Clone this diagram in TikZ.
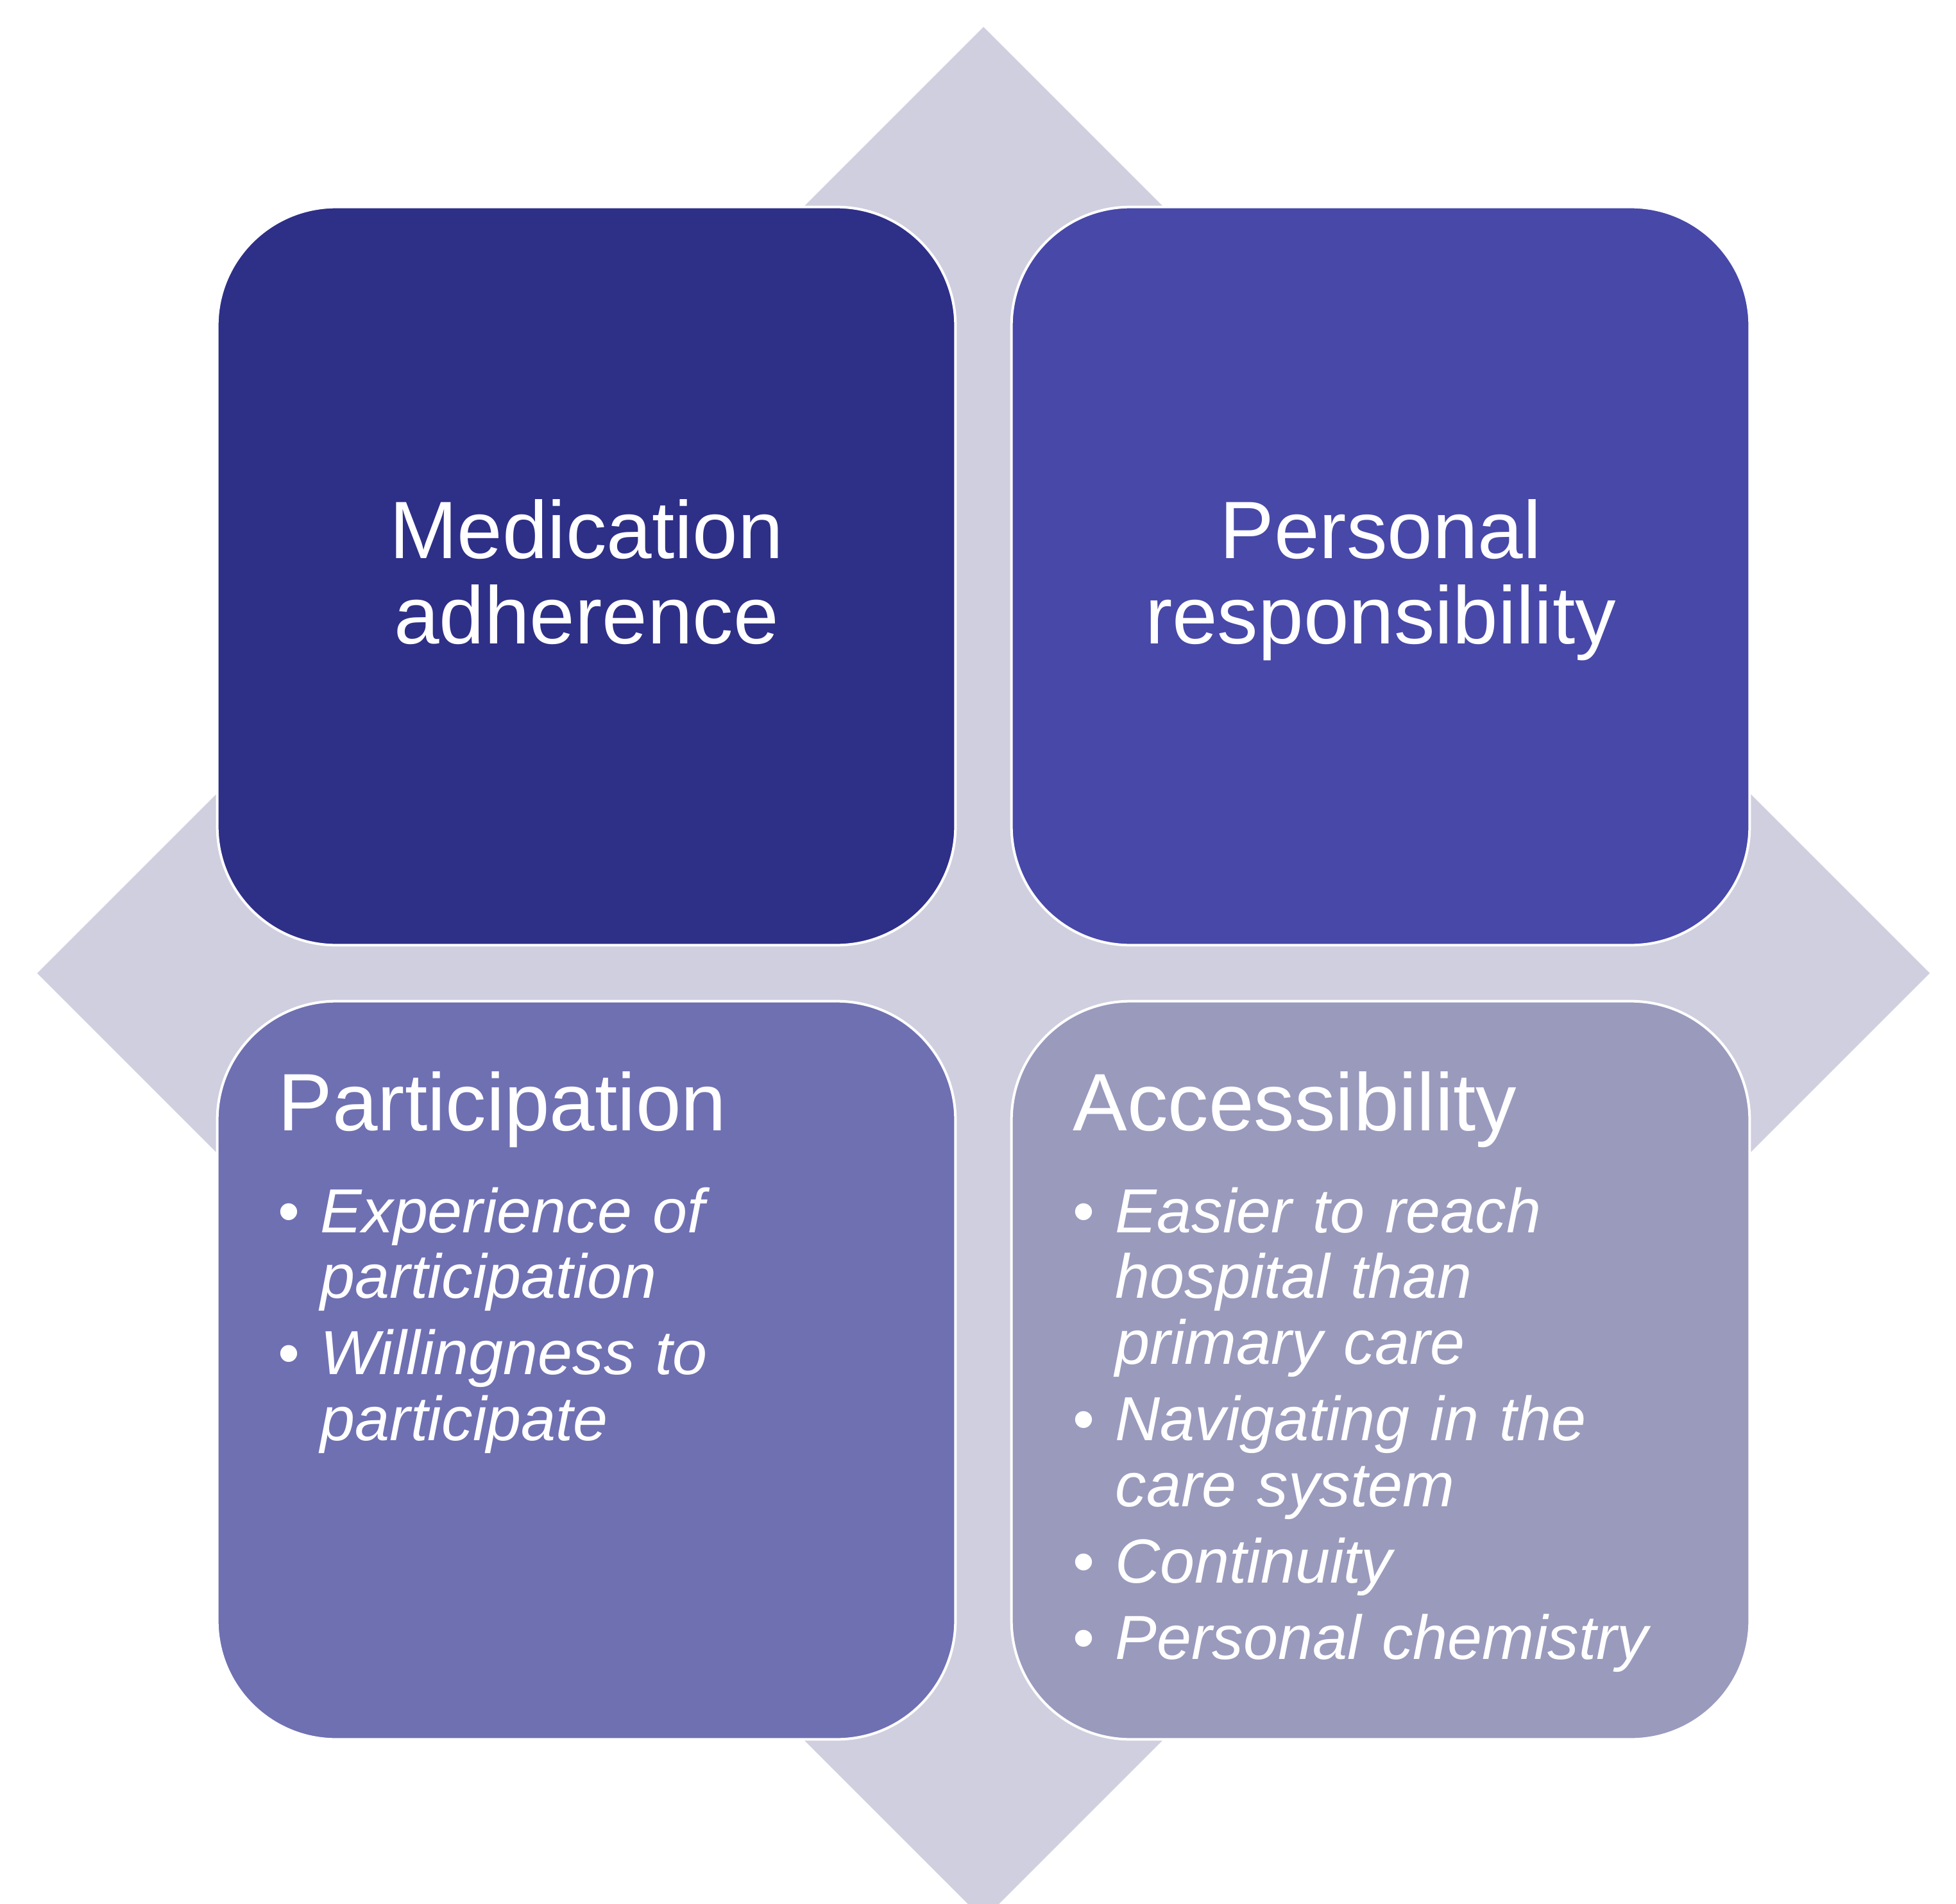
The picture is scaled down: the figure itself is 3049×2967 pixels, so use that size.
\documentclass[tikz,border=0pt]{standalone}
\usepackage{fontspec}
\setmainfont{Liberation Sans}
\usepackage{tikz}
\definecolor{bgd}{RGB}{207,207,223}
\definecolor{c1}{RGB}{46,47,135}
\definecolor{c2}{RGB}{71,72,168}
\definecolor{c3}{RGB}{111,112,178}
\definecolor{c4}{RGB}{154,154,189}
\usetikzlibrary{positioning}
\newcommand{\pitem}[1]{\hangindent=0.66cm\hangafter=1\noindent\makebox[0.66cm][l]{\textbullet}\textit{#1}\par}

\begin{document}
\begin{tikzpicture}
		[x=0.01cm,y=-0.01cm,every node/.style={inner sep=0pt,text=white},
		tile/.style={rectangle,rounded corners=1.85cm,minimum size=11.5cm,draw=white,line width=0.04cm},
		head/.style={font=\fontsize{36.1pt}{37.6pt}\selectfont,align=center},
		list/.style={text width=10.3cm,align=left,font=\fontsize{27.6pt}{29.2pt}\selectfont}]
		\useasboundingbox (0,0) rectangle (3049,2967);
		\clip (0,0) rectangle (3049,2967);
		\fill [color=bgd] (1533,42) -- (3008,1517) -- (1533,2992) -- (58,1517) -- cycle;
		\node (med) [tile, fill=c1] at (914,898) {};
		\node (resp) [tile, fill=c2] at (2152,898) {};
		\node (part) [tile, fill=c3] at (914,2136) {};
		\node (acc) [tile, fill=c4] at (2152,2136) {};
		\node (medt) [head, anchor=base] at (914,1003) {Medication\\adherence};
		\node (respt) [head, anchor=base] at (2152,1003) {Personal\\responsibility};
		\node (partt) [head, anchor=base west] at (433,1762) {Participation};
		\node (acct) [head, anchor=base west] at (1672,1762) {Accessibility};
		\node (partl) [list, anchor=base west] at (433,1921) {\setlength{\parskip}{0.165cm}%
			\pitem{Experience of\newline participation}%
			\pitem{Willingness to\newline participate}};
		\node (accl) [list, anchor=base west] at (1672,1921) {\setlength{\parskip}{0.165cm}%
			\pitem{Easier to reach\newline hospital than\newline primary care}%
			\pitem{Navigating in the\newline care system}%
			\pitem{Continuity}%
			\pitem{Personal chemistry}};
\end{tikzpicture}
\end{document}
